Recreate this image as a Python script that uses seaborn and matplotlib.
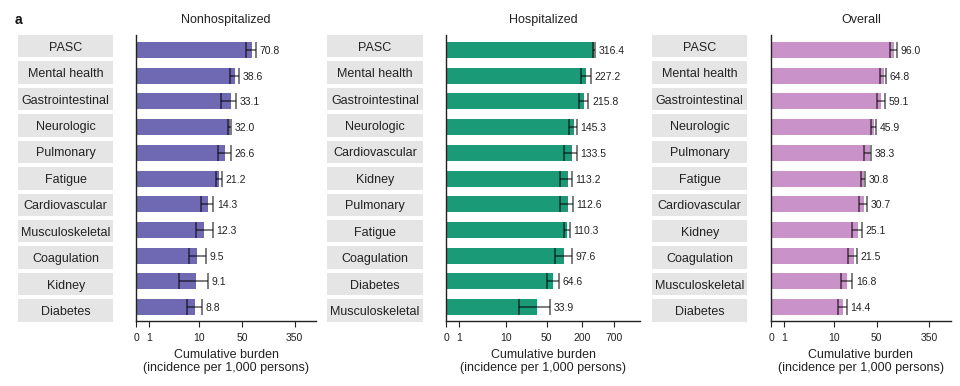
import numpy as np
import pandas as pd
import matplotlib
matplotlib.use("Agg")
import matplotlib.pyplot as plt
import seaborn as sns

# ---------------- data ----------------
nonhosp_cats = ["PASC", "Mental health", "Gastrointestinal", "Neurologic", "Pulmonary",
                "Fatigue", "Cardiovascular", "Musculoskeletal", "Coagulation", "Kidney", "Diabetes"]
nonhosp_vals = [70.8, 38.6, 33.1, 32.0, 26.6, 21.2, 14.3, 12.3, 9.5, 9.1, 8.8]
nonhosp_lo = [57.5, 31.8, 22.5, 29.3, 20.4, 18.9, 10.8, 9.1, 6.8, 4.7, 6.4]
nonhosp_hi = [82.1, 44.9, 39.7, 33.5, 32.6, 23.4, 17.2, 16.9, 13.2, 14.1, 11.1]

hosp_cats = ["PASC", "Mental health", "Gastrointestinal", "Neurologic", "Cardiovascular",
             "Kidney", "Pulmonary", "Fatigue", "Coagulation", "Diabetes", "Musculoskeletal"]
hosp_vals = [316.4, 227.2, 215.8, 145.3, 133.5, 113.2, 112.6, 110.3, 97.6, 64.6, 33.9]
hosp_lo = [306, 189, 173, 120, 100, 83, 83, 97, 69, 51, 17]
hosp_hi = [328, 280, 255, 164, 162, 135, 140, 123, 132, 80, 57]

overall_cats = ["PASC", "Mental health", "Gastrointestinal", "Neurologic", "Pulmonary",
                "Fatigue", "Cardiovascular", "Kidney", "Coagulation", "Musculoskeletal", "Diabetes"]
overall_vals = [96.0, 64.8, 59.1, 45.9, 38.3, 30.8, 30.7, 25.1, 21.5, 16.8, 14.4]
overall_lo = [83, 56.6, 50, 40.5, 31.2, 28.3, 26.3, 20, 17.4, 13.4, 11.8]
overall_hi = [108, 69.8, 68, 48.8, 40.5, 32.4, 35, 29.4, 24, 20.2, 16.4]

titles = ["Nonhospitalized", "Hospitalized", "Overall"]
ticks_a = [0, 1, 10, 50, 350]
ticks_b = [0, 1, 10, 50, 200, 700]
xlabel = "Cumulative burden\n(incidence per 1,000 persons)"

# ---------------- style ----------------
sns.set_theme(style="ticks")
plt.rcParams["font.family"] = ["Liberation Sans", "DejaVu Sans"]

def fwd(x):
    return np.arcsinh(np.asarray(x, dtype=float) / 2.0) / np.log(10)

def inv(y):
    return 2.0 * np.sinh(np.asarray(y, dtype=float) * np.log(10))

W, H = 960, 386
fig = plt.figure(figsize=(9.6, 3.86), dpi=100)

def ax_px(l, t, w, h):
    return fig.add_axes([l / W, 1 - (t + h) / H, w / W, h / H])

panels = [
    dict(cats=nonhosp_cats, vals=nonhosp_vals, lo=nonhosp_lo, hi=nonhosp_hi,
         color="#6f68b2", box=(18.3, 95.0), bar=(136.3, 179.4), xmax=760, ticks=ticks_a),
    dict(cats=hosp_cats, vals=hosp_vals, lo=hosp_lo, hi=hosp_hi,
         color="#1b9a77", box=(327.3, 95.4), bar=(446.3, 193.7), xmax=1900, ticks=ticks_b),
    dict(cats=overall_cats, vals=overall_vals, lo=overall_lo, hi=overall_hi,
         color="#c992c8", box=(652.3, 95.0), bar=(771.3, 179.4), xmax=780, ticks=ticks_a),
]

for p, title in zip(panels, titles):
    cats = p["cats"]
    n = len(cats)
    vals = np.array(p["vals"])
    lo = np.array(p["lo"])
    hi = np.array(p["hi"])

    # label boxes
    lab = ax_px(p["box"][0], 33.0, p["box"][1], 290.7)
    lab.barh(np.arange(n), [1] * n, height=0.845, color="#e5e5e5", linewidth=0)
    lab.set_xlim(0, 1)
    lab.set_ylim(n - 0.5, -0.5)
    lab.axis("off")
    for i, c in enumerate(cats):
        lab.text(0.5, i, c, ha="center", va="center_baseline", fontsize=9, color="#222222")

    # bars
    ax = ax_px(p["bar"][0], 35.0, p["bar"][1], 286.0)
    df = pd.DataFrame({"cat": cats, "val": vals})
    sns.barplot(data=df, x="val", y="cat", order=cats, orient="h", color=p["color"],
                saturation=1, width=0.62, errorbar=None, linewidth=0, ax=ax)
    ax.errorbar(vals, np.arange(n), xerr=[vals - lo, hi - vals], fmt="none",
                ecolor="black", alpha=0.6, elinewidth=1.2, capsize=5.8, capthick=1.2)
    for i in range(n):
        ax.annotate(f"{vals[i]:.1f}", xy=(hi[i], i), xytext=(2.5, 0),
                    textcoords="offset points", ha="left", va="center_baseline",
                    fontsize=7.5, color="#222222")

    ax.set_xscale("function", functions=(fwd, inv))
    ax.set_xlim(0, p["xmax"])
    ax.set_ylim(10.537, -0.583)
    ax.set_xticks(p["ticks"])
    ax.set_xticklabels([str(t) for t in p["ticks"]])
    ax.set_yticks([])
    ax.set_ylabel("")
    ax.set_xlabel(xlabel, fontsize=9, linespacing=1.15, labelpad=4.5, color="#222222")
    sns.despine(ax=ax)
    for s in ("left", "bottom"):
        ax.spines[s].set_color("#222222")
        ax.spines[s].set_linewidth(1.0)
    ax.tick_params(axis="x", length=4, width=0.8, direction="out", labelsize=7.5,
                   pad=4.5, colors="#222222")
    ax.xaxis.set_minor_locator(matplotlib.ticker.NullLocator())

    cx = (p["bar"][0] + p["bar"][1] / 2) / W
    fig.text(cx, 1 - 20 / H, title, ha="center", va="center", fontsize=9, color="#222222")

fig.text(15 / W, 1 - 20.5 / H, "a", ha="left", va="center", fontsize=10,
         fontweight="bold", color="#111111")

fig.savefig("out.png", dpi=100)
